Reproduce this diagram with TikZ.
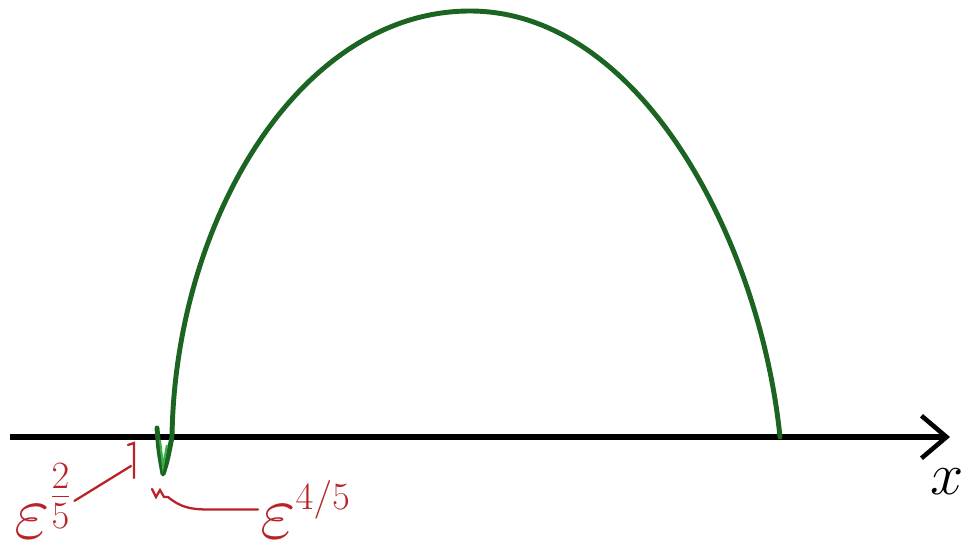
\documentclass[tikz,border=0pt]{standalone}
\usepackage{fix-cm}
\usetikzlibrary{positioning,arrows.meta}
\definecolor{humpgreen}{RGB}{28,100,34}
\definecolor{dipgreen}{RGB}{60,175,70}
\definecolor{inkred}{RGB}{185,35,40}
\tikzset{
  axisline/.style = {draw=black, line width=3pt,
                     -{Straight Barb[length=0.5cm, width=0.85cm, line width=2.6pt]}},
  hump/.style     = {draw=humpgreen, line width=2.8pt, line cap=round, line join=round},
  inkmark/.style  = {draw=inkred, line width=1.3pt, line cap=round},
  epslabel/.style = {text=inkred, inner sep=1pt, font=\fontsize{44}{50}\selectfont},
}
\begin{document}
\begin{tikzpicture}[x=0.02cm, y=-0.02cm]
    \useasboundingbox (0,0) rectangle (966,558);

    % horizontal axis
    \coordinate (o) at (10,437);
    \coordinate (xend) at (950,437);
    \draw[axisline] (o) -- (xend);
    \node[font=\fontsize{34}{40}\selectfont, anchor=east, inner sep=1pt] (xlab) at (966,482) {$x$};

    % the green hump with its small dip below the axis
    \draw[hump] (157,428) .. controls (159,452) .. (163,474)
      .. controls (167,462) .. (172,437)
      .. controls (175,220) and (300,11) .. (470,11)
      .. controls (640,11) and (760,240) .. (780,437);
    \draw[draw=dipgreen, line width=1.2pt] (160,440) -- (163,466) -- (167,445);

    % red marks and their labels
    \coordinate (tick) at (131,466);
    \draw[inkmark] (128,445) -- (134,443) -- (134,478);
    \coordinate (dip) at (168,497);
    \draw[inkmark] (152,489) -- (156,497) -- (160,490) -- (164,497) -- (dip);

    \node[epslabel, anchor=base west] (eps1) at (12,538) {$\varepsilon^{\frac{2}{5}}$};
    \node[epslabel, anchor=base west] (eps2) at (258,538) {$\varepsilon^{\scriptscriptstyle 4/5}$};

    \draw[inkmark] (eps1.east) -- (tick);
    \draw[inkmark] (eps2.west) -- ++(-50,0) to[out=180, in=-40] (dip);
  \end{tikzpicture}
\end{document}
